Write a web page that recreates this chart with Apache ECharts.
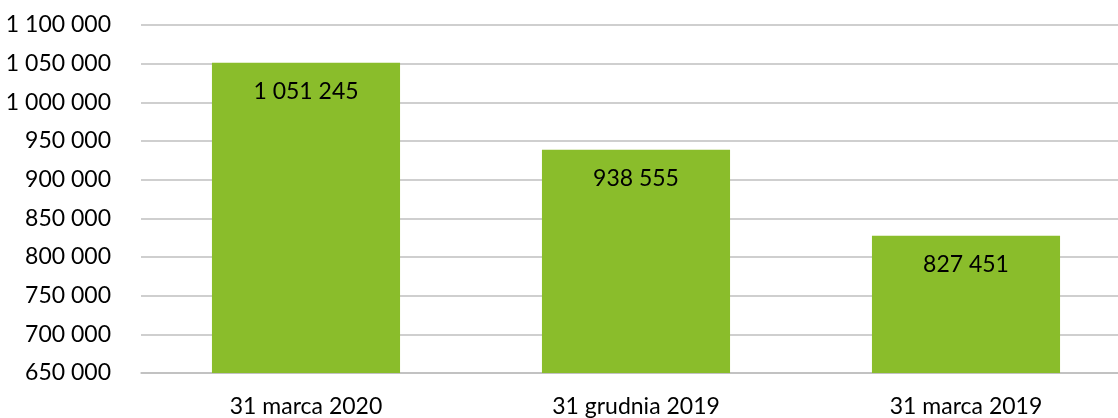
<!DOCTYPE html>
<html>
<head>
<meta charset="utf-8">
<script src="https://cdn.jsdelivr.net/npm/echarts@6/dist/echarts.min.js"></script>
<style>
  html, body { margin: 0; padding: 0; background: #fff; overflow: hidden; }
  /* plot runs a little past the right edge of the window, as in the source */
  #chart { width: 1131px; height: 418px; }
</style>
</head>
<body>
<div id="chart"></div>
<script>
const categories = ['31 marca 2020', '31 grudnia 2019', '31 marca 2019']
const values = [1051245, 938555, 827451]
const yMin = 650000
const yMax = 1100000
const yStep = 50000

// thousands separated by a space, as in the source
const fmt = (v) => String(v).replace(/\B(?=(\d{3})+(?!\d))/g, ' ')

const myChart = echarts.init(document.getElementById('chart'))
const font = 'Lato, "Open Sans", sans-serif'
const option = {
  animation: false,
  grid: { left: 141, top: 25, right: 0, bottom: 45, containLabel: false },
  xAxis: {
    type: 'category',
    data: categories,
    axisTick: { show: false },
    axisLine: { lineStyle: { color: '#BFBFBF', width: 1.5 } },
    axisLabel: { color: '#000', fontSize: 23, fontFamily: font, margin: 22 }
  },
  yAxis: {
    type: 'value',
    min: yMin,
    max: yMax,
    interval: yStep,
    axisLine: { show: false },
    axisTick: { show: false },
    splitLine: { lineStyle: { color: '#BFBFBF', width: 1.5 } },
    axisLabel: { color: '#000', fontSize: 23, fontFamily: font, margin: 30, formatter: fmt }
  },
  series: [
    {
      type: 'bar',
      data: values,
      barWidth: '57%',
      itemStyle: { color: '#8ABD2B' },
      label: {
        show: true,
        position: 'insideTop',
        distance: 17,
        color: '#000',
        fontSize: 23,
        fontFamily: font,
        formatter: (p) => fmt(p.value)
      }
    }
  ]
}
myChart.setOption(option)
</script>
</body>
</html>
